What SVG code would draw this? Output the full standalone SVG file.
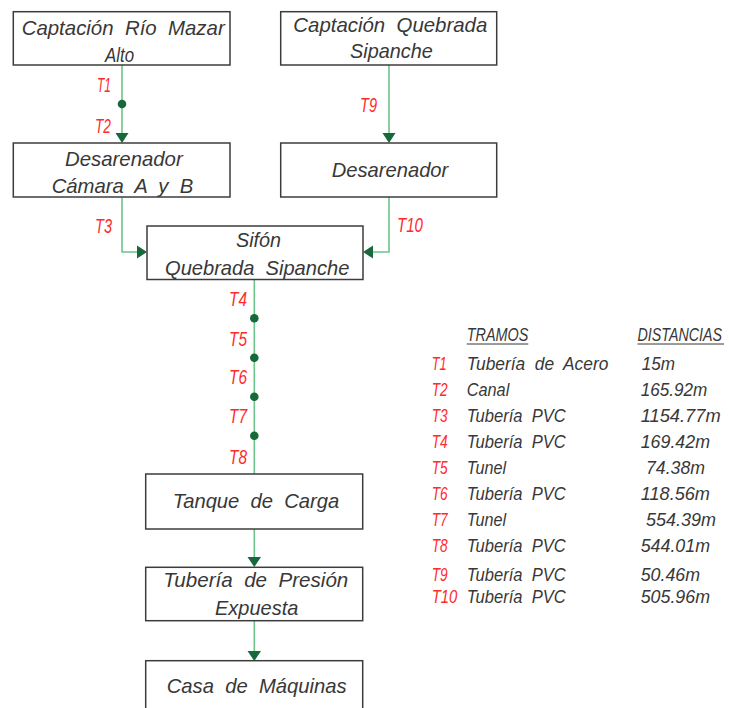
<svg xmlns="http://www.w3.org/2000/svg" width="729" height="708" viewBox="0 0 729 708" xml:space="preserve">
<style>
text{white-space:pre}
.box{fill:#fff;stroke:#3c3c3c;stroke-width:1.5}
.t{font-family:"Liberation Sans",Arial,sans-serif;font-style:italic;font-size:21px;fill:#383838}
.lg{font-family:"Liberation Sans",Arial,sans-serif;font-style:italic;font-size:19px;fill:#383838}
.r{font-family:"Liberation Sans",Arial,sans-serif;font-style:italic;font-size:19px;fill:#ff2a2a}
.rc{font-family:"Liberation Sans",Arial,sans-serif;font-style:italic;font-size:20.5px;fill:#ff2a2a}
.ln{fill:none;stroke:#6cc48c;stroke-width:1.6}
.ah{fill:#17683a}
.ul{stroke:#383838;stroke-width:1}
</style>
<rect width="729" height="708" fill="#fff"/>
<g id="connectors">
<path class="ln" d="M122,65V134"/>
<circle class="ah" cx="122" cy="104" r="4.3"/>
<polygon class="ah" points="115.5,133 128.5,133 122,143"/>
<path class="ln" d="M389,65V134"/>
<polygon class="ah" points="382.5,133 395.5,133 389,143"/>
<path class="ln" d="M122,197V252H138"/>
<polygon class="ah" points="137,245.5 137,258.5 147,252"/>
<path class="ln" d="M389,197V252H372"/>
<polygon class="ah" points="373,245.5 373,258.5 363,252"/>
<path class="ln" d="M254.3,280V474"/>
<circle class="ah" cx="254.3" cy="318.3" r="4.3"/>
<circle class="ah" cx="254.3" cy="357.7" r="4.3"/>
<circle class="ah" cx="254.3" cy="396.7" r="4.3"/>
<circle class="ah" cx="254.3" cy="435.7" r="4.3"/>
<path class="ln" d="M254.3,529V558"/>
<polygon class="ah" points="247.5,557 261,557 254.3,567"/>
<path class="ln" d="M254.3,621V651"/>
<polygon class="ah" points="247.5,651 261,651 254.3,661"/>
<text class="rc" x="97" y="92" textLength="14" lengthAdjust="spacingAndGlyphs">T1</text>
<text class="rc" x="95" y="133" textLength="16" lengthAdjust="spacingAndGlyphs">T2</text>
<text class="rc" x="95" y="233" textLength="17" lengthAdjust="spacingAndGlyphs">T3</text>
<text class="rc" x="360" y="112" textLength="17" lengthAdjust="spacingAndGlyphs">T9</text>
<text class="rc" x="397" y="232" textLength="26" lengthAdjust="spacingAndGlyphs">T10</text>
<text class="rc" x="229" y="305.7" textLength="18" lengthAdjust="spacingAndGlyphs">T4</text>
<text class="rc" x="229" y="346" textLength="18" lengthAdjust="spacingAndGlyphs">T5</text>
<text class="rc" x="229" y="384" textLength="18" lengthAdjust="spacingAndGlyphs">T6</text>
<text class="rc" x="229" y="423" textLength="18" lengthAdjust="spacingAndGlyphs">T7</text>
<text class="rc" x="229" y="464" textLength="18" lengthAdjust="spacingAndGlyphs">T8</text>
</g>
<g id="captacion-mazar">
<rect class="box" x="13.3" y="11.7" width="216.7" height="53.3"/>
<text class="t" x="21.7" y="35" textLength="203" lengthAdjust="spacingAndGlyphs">Captación  Río  Mazar</text>
<text class="t" x="105" y="62" textLength="29" lengthAdjust="spacingAndGlyphs">Alto</text>
</g>
<g id="desarenador-ab">
<rect class="box" x="13.3" y="143" width="216.7" height="54"/>
<text class="t" x="65" y="165.7" textLength="117.7" lengthAdjust="spacingAndGlyphs">Desarenador</text>
<text class="t" x="51.7" y="193" textLength="141.6" lengthAdjust="spacingAndGlyphs">Cámara  A  y  B</text>
</g>
<g id="captacion-sipanche">
<rect class="box" x="280.7" y="11.7" width="216" height="53.3"/>
<text class="t" x="293.3" y="32" textLength="194" lengthAdjust="spacingAndGlyphs">Captación  Quebrada</text>
<text class="t" x="350" y="58.3" textLength="82.7" lengthAdjust="spacingAndGlyphs">Sipanche</text>
</g>
<g id="desarenador">
<rect class="box" x="280.7" y="143" width="216" height="54"/>
<text class="t" x="331.7" y="176.7" textLength="116.6" lengthAdjust="spacingAndGlyphs">Desarenador</text>
</g>
<g id="sifon">
<rect class="box" x="147" y="226" width="216" height="53.5"/>
<text class="t" x="236" y="247" textLength="45" lengthAdjust="spacingAndGlyphs">Sifón</text>
<text class="t" x="165" y="274.5" textLength="184.3" lengthAdjust="spacingAndGlyphs">Quebrada  Sipanche</text>
</g>
<g id="tanque">
<rect class="box" x="145.7" y="474" width="217" height="55"/>
<text class="t" x="172.7" y="508.3" textLength="166.6" lengthAdjust="spacingAndGlyphs">Tanque  de  Carga</text>
</g>
<g id="tuberia-presion">
<rect class="box" x="145.7" y="567.3" width="217" height="53.4"/>
<text class="t" x="163.3" y="586.7" textLength="185" lengthAdjust="spacingAndGlyphs">Tubería  de  Presión</text>
<text class="t" x="215" y="615" textLength="83.3" lengthAdjust="spacingAndGlyphs">Expuesta</text>
</g>
<g id="casa-maquinas">
<rect class="box" x="145.7" y="660.7" width="217" height="60"/>
<text class="t" x="166.7" y="693.3" textLength="180" lengthAdjust="spacingAndGlyphs">Casa  de  Máquinas</text>
</g>
<g id="legend">
<text class="lg" x="466.7" y="340.7" textLength="61.6" lengthAdjust="spacingAndGlyphs">TRAMOS</text>
<line class="ul" x1="466.7" y1="344" x2="528.3" y2="344"/>
<text class="lg" transform="translate(637.5,340.7) scale(0.75,1)" x="0" y="0">DISTANCIAS</text>
<line class="ul" x1="637.5" y1="344" x2="724" y2="344"/>
<text class="r" x="431.7" y="370" textLength="15" lengthAdjust="spacingAndGlyphs">T1</text>
<text class="r" x="431.7" y="396" textLength="16" lengthAdjust="spacingAndGlyphs">T2</text>
<text class="r" x="431.7" y="421.7" textLength="16" lengthAdjust="spacingAndGlyphs">T3</text>
<text class="r" x="431.7" y="447.7" textLength="16" lengthAdjust="spacingAndGlyphs">T4</text>
<text class="r" x="431.7" y="474.3" textLength="16" lengthAdjust="spacingAndGlyphs">T5</text>
<text class="r" x="431.7" y="500" textLength="16" lengthAdjust="spacingAndGlyphs">T6</text>
<text class="r" x="431.7" y="526" textLength="16" lengthAdjust="spacingAndGlyphs">T7</text>
<text class="r" x="431.7" y="551.7" textLength="16" lengthAdjust="spacingAndGlyphs">T8</text>
<text class="r" x="431.7" y="580.7" textLength="16" lengthAdjust="spacingAndGlyphs">T9</text>
<text class="r" x="431.7" y="603.3" textLength="25.6" lengthAdjust="spacingAndGlyphs">T10</text>
<text class="lg" x="466.7" y="370" textLength="141.6" lengthAdjust="spacingAndGlyphs">Tubería  de  Acero</text>
<text class="lg" x="466.7" y="396" textLength="42.6" lengthAdjust="spacingAndGlyphs">Canal</text>
<text class="lg" x="466.7" y="421.7" textLength="99" lengthAdjust="spacingAndGlyphs">Tubería  PVC</text>
<text class="lg" x="466.7" y="447.7" textLength="99" lengthAdjust="spacingAndGlyphs">Tubería  PVC</text>
<text class="lg" x="466.7" y="474.3" textLength="39.3" lengthAdjust="spacingAndGlyphs">Tunel</text>
<text class="lg" x="466.7" y="500" textLength="99" lengthAdjust="spacingAndGlyphs">Tubería  PVC</text>
<text class="lg" x="466.7" y="526" textLength="39.3" lengthAdjust="spacingAndGlyphs">Tunel</text>
<text class="lg" x="466.7" y="551.7" textLength="99" lengthAdjust="spacingAndGlyphs">Tubería  PVC</text>
<text class="lg" x="466.7" y="580.7" textLength="99" lengthAdjust="spacingAndGlyphs">Tubería  PVC</text>
<text class="lg" x="466.7" y="603.3" textLength="99" lengthAdjust="spacingAndGlyphs">Tubería  PVC</text>
<text class="lg" x="641.7" y="370" textLength="33.3" lengthAdjust="spacingAndGlyphs">15m</text>
<text class="lg" x="640.7" y="396" textLength="66.6" lengthAdjust="spacingAndGlyphs">165.92m</text>
<text class="lg" x="640.7" y="421.7" textLength="80" lengthAdjust="spacingAndGlyphs">1154.77m</text>
<text class="lg" x="640.7" y="447.7" textLength="69.3" lengthAdjust="spacingAndGlyphs">169.42m</text>
<text class="lg" x="646" y="474.3" textLength="59" lengthAdjust="spacingAndGlyphs">74.38m</text>
<text class="lg" x="640.7" y="500" textLength="69.3" lengthAdjust="spacingAndGlyphs">118.56m</text>
<text class="lg" x="646" y="526" textLength="70" lengthAdjust="spacingAndGlyphs">554.39m</text>
<text class="lg" x="640.7" y="551.7" textLength="69.3" lengthAdjust="spacingAndGlyphs">544.01m</text>
<text class="lg" x="640.7" y="580.7" textLength="59.3" lengthAdjust="spacingAndGlyphs">50.46m</text>
<text class="lg" x="640.7" y="603.3" textLength="69.3" lengthAdjust="spacingAndGlyphs">505.96m</text>
</g>
</svg>
